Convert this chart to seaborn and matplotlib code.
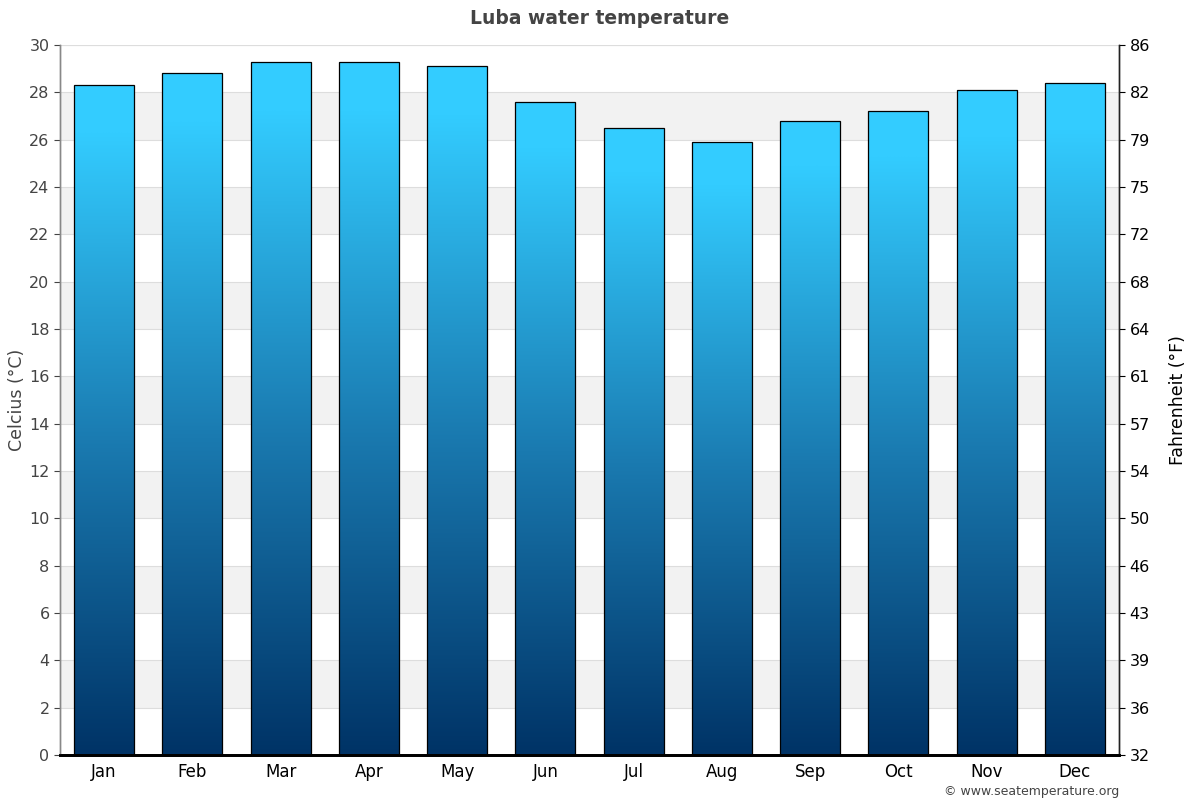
import matplotlib
matplotlib.use("Agg")
import matplotlib.pyplot as plt
import seaborn as sns
import numpy as np
import pandas as pd
from matplotlib.colors import LinearSegmentedColormap

months = ["Jan", "Feb", "Mar", "Apr", "May", "Jun", "Jul", "Aug", "Sep", "Oct", "Nov", "Dec"]
water_temp_c = [28.3, 28.8, 29.3, 29.3, 29.1, 27.6, 26.5, 25.9, 26.8, 27.2, 28.1, 28.4]
celsius_ticks = list(range(0, 31, 2))
fahrenheit_labels = ["32", "36", "39", "43", "46", "50", "54", "57", "61", "64", "68", "72", "75", "79", "82", "86"]

sns.set_theme(style="white")
plt.rcParams['font.family'] = ['DejaVu Sans']

df = pd.DataFrame({"month": months, "temp": water_temp_c})

fig = plt.figure(figsize=(12, 8), dpi=100)
ax = fig.add_axes([60/1200, 45/800, (1119-60)/1200, (755-45)/800])

sns.barplot(data=df, x="month", y="temp", ax=ax, width=0.68, color="#1a8fc8",
            edgecolor="black", linewidth=0.9, zorder=2)
bars = list(ax.containers[0])

# background bands
for lo in range(2, 30, 4):
    ax.axhspan(lo, lo + 2, color="#f2f2f2", zorder=0, lw=0)
for t in celsius_ticks:
    ax.axhline(t, color="#dddddd", lw=0.8, zorder=0.5)

cmap = LinearSegmentedColormap.from_list("wt", ["#003366", "#1a7ab0", "#33ccff"])
grad = np.linspace(0, 1, 256).reshape(-1, 1)
for p in bars:
    x0 = p.get_x()
    w, h = p.get_width(), p.get_height()
    p.set_facecolor("none")
    im = ax.imshow(grad, extent=[x0, x0 + w, 0, h * 0.93], origin="lower", cmap=cmap,
                   aspect="auto", zorder=1.9, interpolation="bilinear")
    im.set_clip_path(p)
    # fill remaining top with light color
    ax.bar(x0 + w / 2, h - h * 0.93, bottom=h * 0.93, width=w, color="#33ccff",
           lw=0, zorder=1.9)
ax.set_xlim(-0.5, 11.5)
ax.set_ylim(0, 30)

ax.set_yticks(celsius_ticks)
ax.tick_params(axis="y", colors="#444444", labelsize=11.5, length=4, width=0.8, direction="out")
ax.tick_params(axis="x", colors="black", labelsize=12, length=0, pad=6)
for lbl in ax.get_yticklabels():
    lbl.set_color("#444444")
ax.set_xlabel("")
ax.set_ylabel("Celcius (°C)", color="#444444", fontsize=12.5, labelpad=2)

ax2 = ax.twinx()
ax2.set_ylim(0, 30)
ax2.set_yticks(celsius_ticks)
ax2.set_yticklabels(fahrenheit_labels)
ax2.tick_params(axis="y", colors="black", labelsize=11.5, length=4, width=0.8)
ax2.set_ylabel("Fahrenheit (°F)", color="black", fontsize=12.5, labelpad=14)

for a in (ax, ax2):
    a.spines["top"].set_visible(False)
    a.spines["left"].set_color("#888888")
    a.spines["left"].set_linewidth(1)
    a.spines["right"].set_color("#222222")
    a.spines["right"].set_linewidth(1)
    a.spines["bottom"].set_color("black")
    a.spines["bottom"].set_linewidth(2)
ax.axhline(30, color="#dddddd", lw=0.8, zorder=0.5)

fig.text(0.5, 1 - 18/800, "Luba water temperature", ha="center", va="center",
         fontsize=13.5, fontweight="bold", color="#444444")
fig.text(1119/1200, 1 - 792/800, "© www.seatemperature.org", ha="right", va="center",
         fontsize=9, color="#444444")

fig.savefig("out.png", dpi=100)
